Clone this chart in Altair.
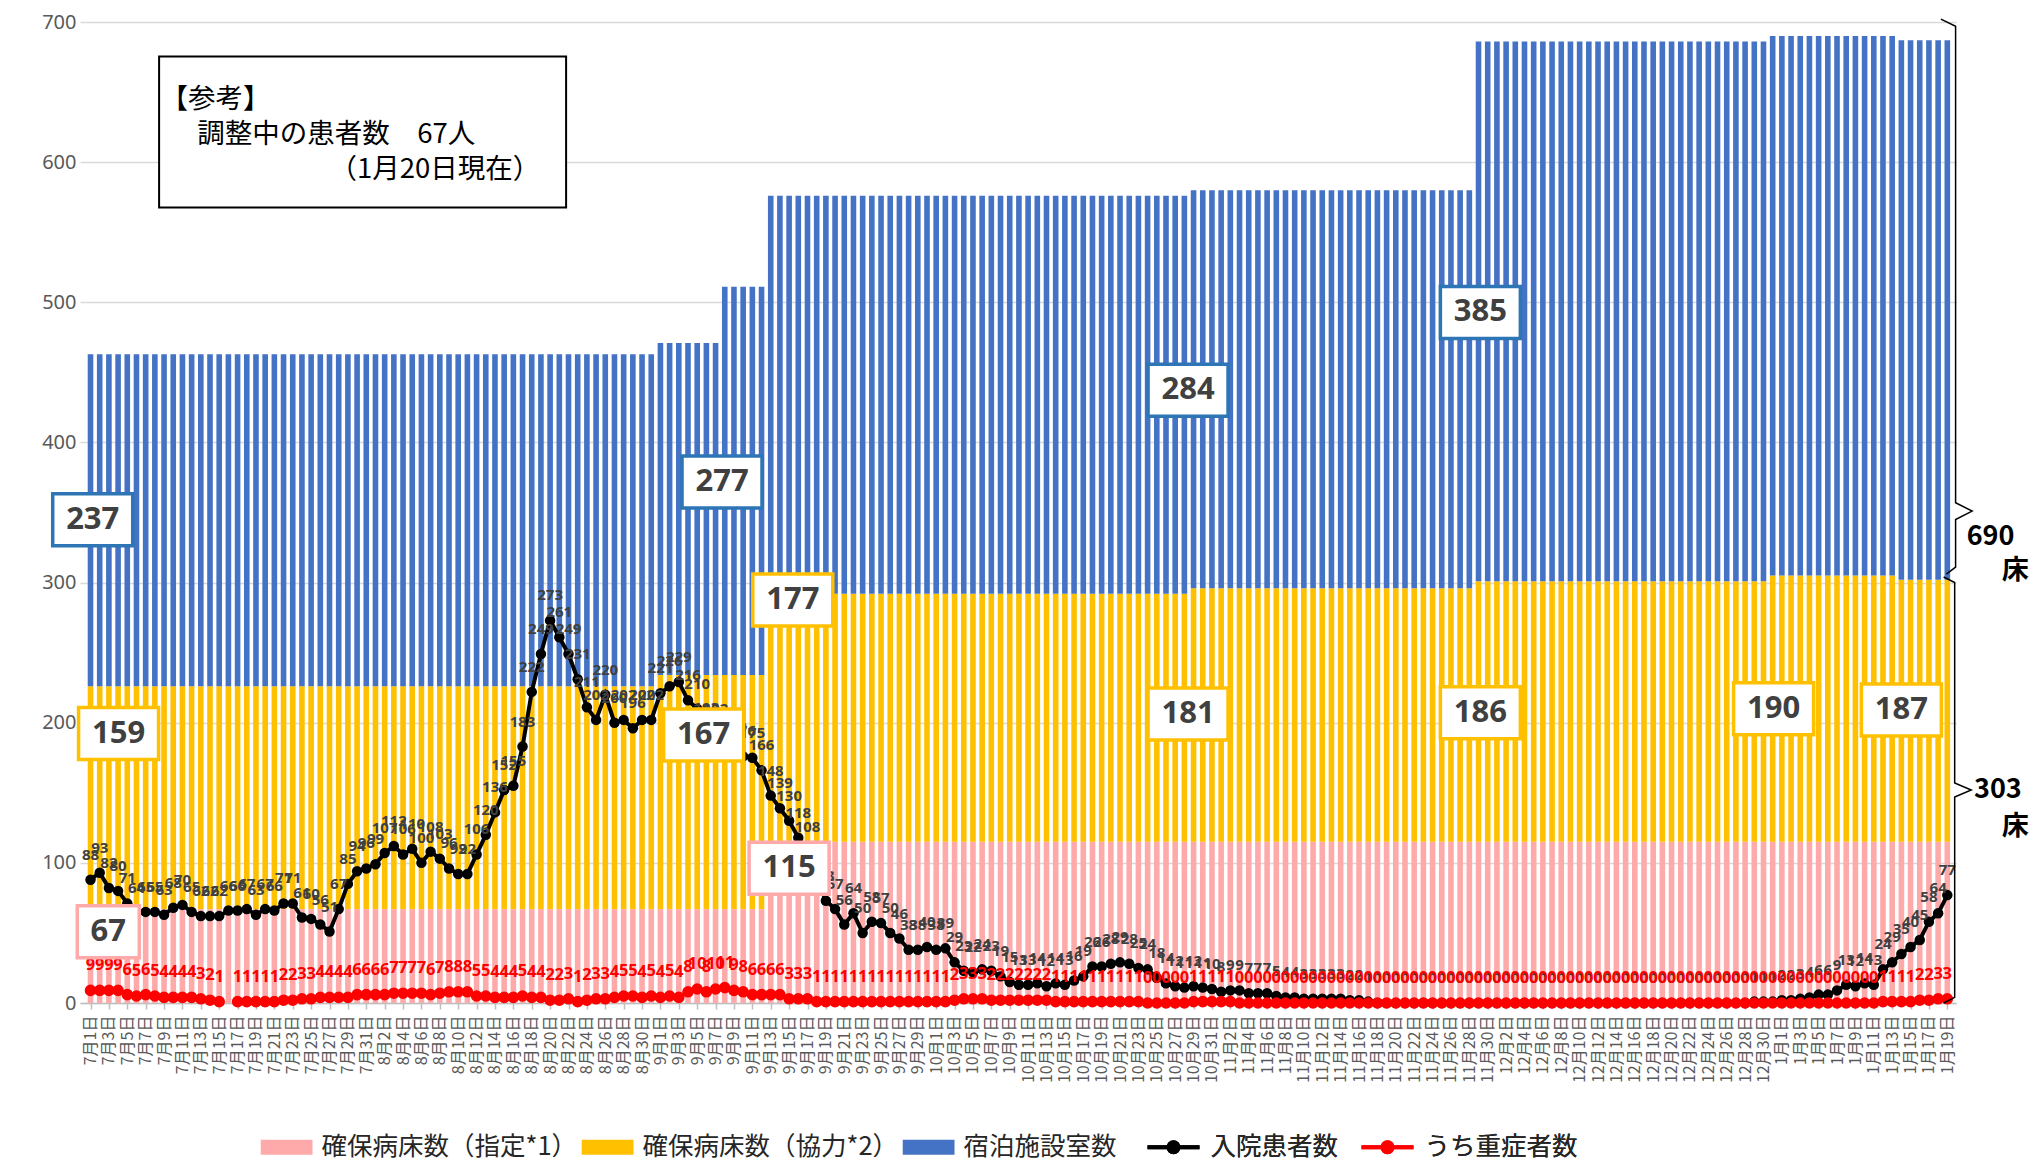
import altair as alt
import pandas as pd
from datetime import date, timedelta

# ---------------- categories / tick labels ----------------
START = date(2020, 7, 1)
N_DAYS = 203
DATE_LABELS = []
for k in range(N_DAYS):
    d = START + timedelta(days=k)
    DATE_LABELS.append(f"{d.month}月{d.day}日")
TICK_DAYS = list(range(0, N_DAYS, 2))
TICK_LABELS = [DATE_LABELS[k] for k in TICK_DAYS]

SERIES_BARS = ["確保病床数（指定*1）", "確保病床数（協力*2）", "宿泊施設室数"]
SERIES_LINES = ["入院患者数", "うち重症者数"]

# ---------------- bed capacity (step periods) ----------------
PERIOD_FIRST_DAY = [0, 62, 69, 74, 120, 151, 183, 197]
BEDS_DESIGNATED = [67, 67, 67, 115, 115, 115, 115, 115]
BEDS_COOPERATING = [159, 167, 167, 177, 181, 186, 190, 187]
HOTEL_ROOMS = [237, 237, 277, 284, 284, 385, 385, 385]

# ---------------- patients ----------------
INPATIENTS = (
    [88, 93, 82, 80, 71, 64, 65, 65, 63, 68,
     70, 65, 62, 62, 62, 66, 66, 67, 63, 67,
     66, 71, 71, 61, 60, 56, 51, 67, 85, 94,
     96, 99, 107, 112, 106, 110, 100, 108, 103, 96,
     92, 92, 106, 120, 136, 152, 155, 183, 222, 249,
     273, 261, 249, 231, 211, 202, 220, 200, 202, 196,
     202, 202, 221, 226, 229, 216, 210, 193, 192, 189,
     179, 176, 175, 166, 148, 139, 130, 118, 108, 89,
     73, 67, 56, 64, 50, 58, 57, 50, 46, 38,
     38, 40, 38, 39, 29, 23, 22, 24, 23, 19,
     15, 13, 13, 14, 12, 14, 13, 16, 19, 26,
     26, 28, 29, 28, 25, 24, 18, 14, 12, 11,
     12, 11, 10, 8, 9, 9, 7, 7, 7, 5,
     4, 4, 3, 3, 3, 3, 3, 2, 2, 1]
    + [0] * 41
    + [1, 1, 1, 2, 2, 3,
       4, 6, 6, 9, 13, 12, 14, 13, 24, 29,
       35, 40, 45, 58, 64, 77]
)
SEVERE = (
    [9, 9, 9, 9, 6, 5, 6, 5, 4, 4, 4, 4, 3, 2, 1, None,
     1, 1, 1, 1, 1, 2, 2, 3, 3, 4, 4, 4, 4, 6, 6, 6, 6, 7, 7, 7, 7, 6, 7, 8, 8, 8,
     5, 5, 4, 4, 4, 5, 4, 4, 2, 2, 3, 1, 2, 3, 3, 4, 5, 5, 4, 5, 4, 5, 4,
     8, 10, 8, 10, 11, 9, 8, 6, 6, 6, 6, 3, 3, 3]
    + [1] * 15 + [2, 3, 3, 3] + [2] * 7 + [1] * 10 + [0] * 5 + [1] * 5 + [0] * 70
    + [1, 1, 1, 1, 2, 2, 3, 3]
)

# ---------------- annotations (data units) ----------------
CALLOUT_TEXT = ["237", "159", "67", "277", "177", "167", "115", "284", "181", "385", "186", "190", "187"]
CALLOUT_DAY = [0.24, 3.05, 1.93, 68.7, 76.4, 66.7, 76.0, 119.4, 119.4, 151.2, 151.2, 183.1, 197.0]
CALLOUT_LEVEL = [344.8, 192.3, 50.9, 371.7, 287.5, 191.3, 96.2, 437.3, 206.2, 492.8, 207.1, 209.9, 209.0]
CALLOUT_KIND = ["blue", "yellow", "pink", "blue", "yellow", "yellow", "pink",
                "blue", "yellow", "blue", "yellow", "yellow", "yellow"]

NOTE_LINES = ["【参考】", "調整中の患者数　67人", "（1月20日現在）"]
NOTE_DAY = [7.6, 11.6, 26.0]
NOTE_LEVEL = [644.4, 619.4, 594.5]
NOTE_BOX_DAY = 29.6
NOTE_BOX_LEVEL = 621.5

BRACE_TEXT = ["690", "床", "303", "床"]
BRACE_TEXT_DAY = [206.7, 209.4, 207.5, 209.4]
BRACE_TEXT_LEVEL = [332.7, 308.6, 151.7, 125.4]
BRACE_UPPER_DAY = [201.3, 202.9, 202.9, 204.7, 202.9, 202.9, 201.9]
BRACE_UPPER_LEVEL = [702, 697, 357, 351, 345, 311, 306]
BRACE_LOWER_DAY = [201.6, 202.8, 202.8, 204.6, 202.8, 202.8, 201.6]
BRACE_LOWER_LEVEL = [304, 300, 157, 152, 147, 4, 0]

# ---------------- styles ----------------
PINK, YELLOW, BLUE = "#FFAAAA", "#FFC000", "#4472C4"
BORDER = {"blue": "#2E75B6", "yellow": "#FFC000", "pink": "#FFAAAA"}
LABEL_GREY = "#404040"
JP = "Noto Sans CJK JP"
NUM = "Noto Sans"

W, H = 1876, 981

# ---------------- tables ----------------
bar_rows = []
for p, first in enumerate(PERIOD_FIRST_DAY):
    last = PERIOD_FIRST_DAY[p + 1] if p + 1 < len(PERIOD_FIRST_DAY) else N_DAYS
    vals = [BEDS_DESIGNATED[p], BEDS_COOPERATING[p], HOTEL_ROOMS[p]]
    for k in range(first, last):
        for o, (name, v) in enumerate(zip(SERIES_BARS, vals)):
            bar_rows.append({"day": k, "series": name, "beds": v, "order": o})
bars_df = pd.DataFrame(bar_rows)

inp_df = pd.DataFrame({"day": list(range(N_DAYS)), "val": INPATIENTS, "series": SERIES_LINES[0]})
sev_rows = []
seg = 0
for k, v in enumerate(SEVERE):
    if v is None:
        seg += 1
        continue
    sev_rows.append({"day": k, "val": v, "seg": seg, "series": SERIES_LINES[1]})
sev_df = pd.DataFrame(sev_rows)

# ---------------- encodings ----------------
label_expr = "[" + ",".join("'" + s + "'" for s in TICK_LABELS) + "][round(datum.value / 2)]"
x_axis = alt.Axis(values=TICK_DAYS, labelExpr=label_expr, labelAngle=270, tickSize=6,
                  labelPadding=6, labelFontSize=16, labelFont=JP, labelColor="#595959",
                  grid=False, domainColor="#BFBFBF", domainWidth=1.5, tickColor="#BFBFBF",
                  tickWidth=1.5, labelOverlap=False, labelFlush=False, title=None)
y_axis = alt.Axis(values=list(range(0, 701, 100)), grid=True, gridColor="#D9D9D9", gridWidth=1.3,
                  domain=False, ticks=False, labelFontSize=20, labelFont=NUM, labelColor="#595959",
                  labelPadding=4, labelFlush=False, title=None)
x_scale = alt.Scale(domain=[-0.6, 202.4], nice=False, zero=False)
y_scale = alt.Scale(domain=[0, 700], nice=False)

def X(field="day"):
    return alt.X(f"{field}:Q", scale=x_scale, axis=x_axis, title=None)

def Y(field="val", **kw):
    return alt.Y(f"{field}:Q", scale=y_scale, axis=y_axis, title=None, **kw)

RECT_PATH = "M-1,-0.29L1,-0.29L1,0.29L-1,0.29Z"
LINE_DOT_PATH = ("M-1,0L1,0"
                 "M-0.19,0A0.19,0.19,0,1,1,0.19,0A0.19,0.19,0,1,1,-0.19,0"
                 "M-0.09,0A0.09,0.09,0,1,1,0.09,0A0.09,0.09,0,1,1,-0.09,0"
                 "M-0.02,0A0.02,0.02,0,1,1,0.02,0A0.02,0.02,0,1,1,-0.02,0")

LEG_Y = 1112
LEG_FONT = 25.5
bar_legend = alt.Legend(title=None, orient="none", legendX=180.5, legendY=LEG_Y, direction="horizontal",
                        symbolType=RECT_PATH, symbolSize=2704, clipHeight=26, labelFontSize=LEG_FONT,
                        labelFont=JP, labelColor="#262626", labelOffset=9, columnPadding=4,
                        labelLimit=400, symbolStrokeWidth=0, symbolOpacity=1)
line_legend = alt.Legend(title=None, orient="none", legendX=1065.5, legendY=LEG_Y, direction="horizontal",
                         symbolType=LINE_DOT_PATH, symbolSize=2704, clipHeight=26, labelFontSize=LEG_FONT,
                         labelFont=JP, labelColor="#262626", labelOffset=9, columnPadding=21,
                         labelLimit=400, symbolStrokeWidth=4, symbolOpacity=1)

bars = alt.Chart(bars_df).mark_bar(width=5.6).encode(
    x=X(),
    y=Y("beds", stack="zero"),
    color=alt.Color("series:N", scale=alt.Scale(domain=SERIES_BARS, range=[PINK, YELLOW, BLUE]),
                    legend=bar_legend),
    order=alt.Order("order:Q"),
)

stroke_enc = alt.Stroke("series:N", scale=alt.Scale(domain=SERIES_LINES, range=["#000000", "#FF0000"]),
                        legend=line_legend)

inp_line = alt.Chart(inp_df).mark_line(strokeWidth=4).encode(x=X(), y=Y(), stroke=stroke_enc)
inp_pts = alt.Chart(inp_df).mark_point(filled=True, size=110, color="#000000", opacity=1).encode(x=X(), y=Y())
sev_line = alt.Chart(sev_df).mark_line(strokeWidth=4).encode(x=X(), y=Y(), stroke=stroke_enc,
                                                            detail="seg:N")
sev_pts = alt.Chart(sev_df).mark_point(filled=True, size=135, color="#FF0000", opacity=1).encode(x=X(), y=Y())

inp_lbl = alt.Chart(inp_df).mark_text(dy=-25, fontSize=15, fontWeight="bold", font=NUM,
                                      color=LABEL_GREY).encode(x=X(), y=Y(), text=alt.Text("val:Q", format="d"))
sev_lbl = alt.Chart(sev_df).mark_text(dy=-25, fontSize=16.5, fontWeight="bold", font=NUM,
                                      color="#FF0000").encode(x=X(), y=Y(), text=alt.Text("val:Q", format="d"))

layers = [bars, inp_line, inp_pts, sev_line, sev_pts, inp_lbl, sev_lbl]

# callout boxes
for t, dday, lvl, kind in zip(CALLOUT_TEXT, CALLOUT_DAY, CALLOUT_LEVEL, CALLOUT_KIND):
    bw, bh = (62.0, 52.0) if len(t) == 2 else (80.0, 52.0)
    r = bh / bw
    path = f"M-1,-{r:.4f}L1,-{r:.4f}L1,{r:.4f}L-1,{r:.4f}Z"
    one = pd.DataFrame({"day": [dday], "val": [lvl], "t": [t]})
    layers.append(alt.Chart(one).mark_point(shape=path, size=bw * bw, filled=True, fill="white",
                                            stroke=BORDER[kind], strokeWidth=3.5, opacity=1,
                                            fillOpacity=1, strokeOpacity=1).encode(x=X(), y=Y()))
    layers.append(alt.Chart(one).mark_text(fontSize=31, fontWeight="bold", font=NUM,
                                           color=LABEL_GREY).encode(x=X(), y=Y(), text="t:N"))

# reference note box
nb_w, nb_h = 407.0, 151.0
nr = nb_h / nb_w
note_box = pd.DataFrame({"day": [NOTE_BOX_DAY], "val": [NOTE_BOX_LEVEL]})
layers.append(alt.Chart(note_box).mark_point(
    shape=f"M-1,-{nr:.4f}L1,-{nr:.4f}L1,{nr:.4f}L-1,{nr:.4f}Z", size=nb_w * nb_w, filled=True,
    fill="white", stroke="#000000", strokeWidth=2, opacity=1, fillOpacity=1, strokeOpacity=1
).encode(x=X(), y=Y()))
note_df = pd.DataFrame({"day": NOTE_DAY, "val": NOTE_LEVEL, "t": NOTE_LINES})
layers.append(alt.Chart(note_df).mark_text(align="left", fontSize=27.5, font=JP, color="#000000").encode(
    x=X(), y=Y(), text="t:N"))

# braces on the right
brace_rows = []
for b, (ds, ls) in enumerate([(BRACE_UPPER_DAY, BRACE_UPPER_LEVEL), (BRACE_LOWER_DAY, BRACE_LOWER_LEVEL)]):
    for k, (dd, ll) in enumerate(zip(ds, ls)):
        brace_rows.append({"day": dd, "val": ll, "b": b, "k": k})
brace_df = pd.DataFrame(brace_rows)
layers.append(alt.Chart(brace_df).mark_line(color="#000000", strokeWidth=1.5).encode(
    x=X(), y=Y(), detail="b:N", order="k:Q"))
brace_txt = pd.DataFrame({"day": BRACE_TEXT_DAY, "val": BRACE_TEXT_LEVEL, "t": BRACE_TEXT})
layers.append(alt.Chart(brace_txt).mark_text(fontSize=27, fontWeight="bold", font=JP, color="#000000").encode(
    x=X(), y=Y(), text="t:N"))

chart = alt.layer(*layers).properties(
    width=W, height=H,
    padding={"left": 33, "top": 4, "right": 2, "bottom": 0},
).configure_view(stroke=None).resolve_scale(color="independent", stroke="independent")

chart.save("out.html", embed_options={"renderer": "svg", "actions": False})
